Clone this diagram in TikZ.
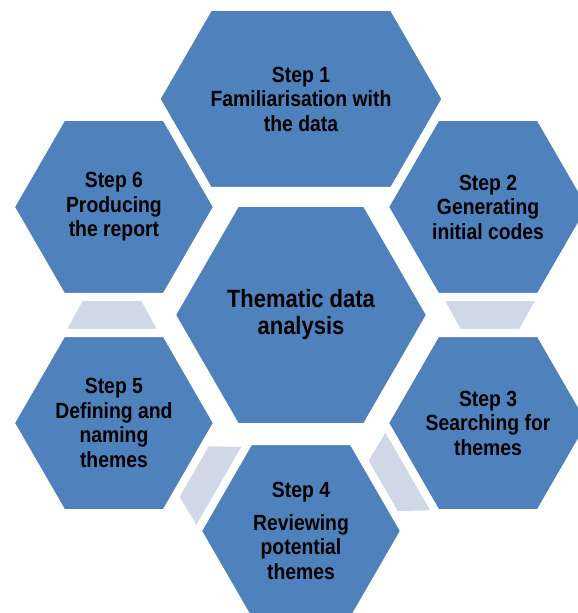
\documentclass[tikz,border=0pt]{standalone}
\usepackage{fontspec}
\setmainfont{Liberation Sans}[FakeStretch=0.88]
\usetikzlibrary{shapes.symbols}

\definecolor{hexblue}{RGB}{79,129,189}
\definecolor{linkblue}{RGB}{208,216,232}

\begin{document}
\begin{tikzpicture}[
    x=1pt, y=1pt,
    hexa/.style={signal, signal to=east and west, signal pointer angle=120, fill=hexblue, draw=white, line width=8pt, inner sep=0pt},
    stephex/.style={hexa, minimum width=207pt, minimum height=180pt},
    steptext/.style={align=center, text=black, font=\bfseries\fontsize{22}{24.5}\selectfont},
    link/.style={fill=linkblue}
]
\useasboundingbox (-301,-298) rectangle (277,315);

% links between neighbouring steps, behind the hexagons
\foreach \a in {60,0,-60,-120,-180}
    \fill[link, rotate=\a] (141,20) -- (237,20) -- (215,-20) -- (163,-20) -- cycle;

% centre
\node[hexa, minimum width=259pt, minimum height=224pt] (core) at (0,0) {};
\node[steptext, font=\bfseries\fontsize{25}{27}\selectfont] (coretext) at (core) {Thematic data\\analysis};

% steps round the centre
\node[stephex, minimum width=290pt, minimum height=184pt] (step1) at (90:216) {};
\node[stephex] (step2) at (30:216) {};
\node[stephex] (step3) at (-30:216) {};
\node[stephex] (step4) at (-90:216) {};
\node[stephex] (step5) at (-150:216) {};
\node[stephex] (step6) at (150:216) {};

\node[steptext] (step1text) at (step1) {Step 1\\Familiarisation with\\the data};
\node[steptext] (step2text) at (step2) {Step 2\\Generating\\initial codes};
\node[steptext] (step3text) at (step3) {Step 3\\Searching for\\themes};
\node[steptext] (step4text) at (step4) {Step 4\\[8pt]Reviewing\\potential\\themes};
\node[steptext] (step5text) at (step5) {Step 5\\Defining and\\naming\\themes};
\node[steptext] (step6text) at (step6) {Step 6\\Producing\\the report};

\end{tikzpicture}
\end{document}
